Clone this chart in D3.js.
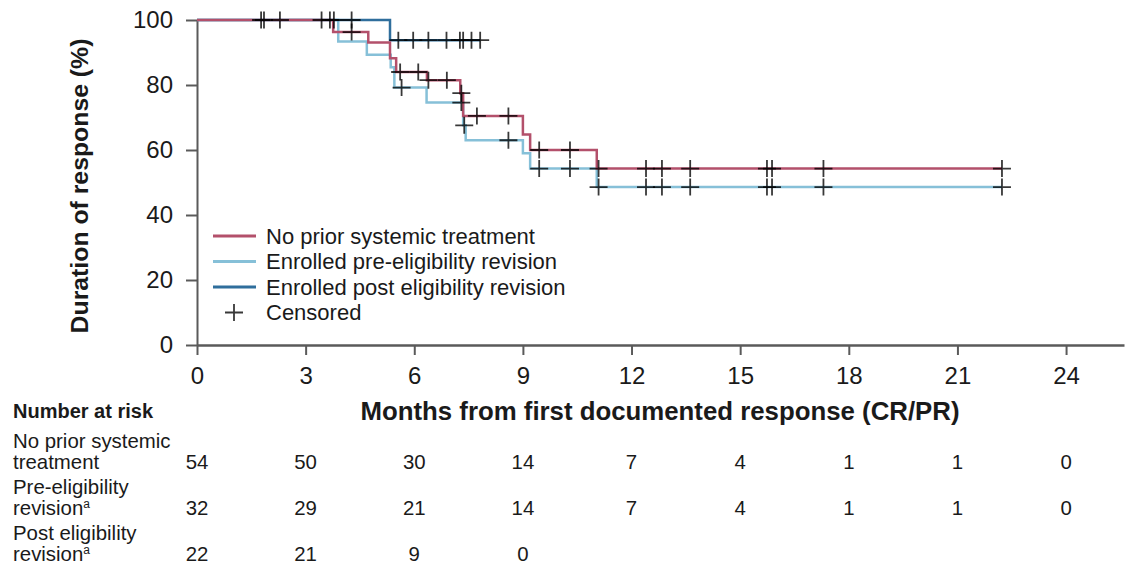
<!DOCTYPE html>
<html>
<head>
<meta charset="utf-8">
<script src="https://cdn.jsdelivr.net/npm/d3@7"></script>
<style>
  body { margin: 0; background: #fff; }
  svg { display: block; font-family: "Liberation Sans", Arial, sans-serif; }
</style>
</head>
<body>
<svg id="km" width="1129" height="568"></svg>
<script>
// risk table
const months = [0, 3, 6, 9, 12, 15, 18, 21, 24];
const atRiskNoPrior = [54, 50, 30, 14, 7, 4, 1, 1, 0];
const atRiskPre = [32, 29, 21, 14, 7, 4, 1, 1, 0];
const atRiskPost = [22, 21, 9, 0];

// KM steps: [month, % still responding]
const stepsNoPrior = [[0,100],[3.76,96.3],[4.73,93.1],[5.33,88.2],[5.5,84],[6.35,81.5],[7.27,77.5],[7.35,70.5],[9.0,64.8],[9.2,60],[11.04,54.3]];
const stepsPre = [[0,100],[3.9,93.4],[4.69,89.3],[5.35,85.5],[5.45,79.2],[6.34,74.6],[7.35,67.6],[7.42,63],[9.0,59],[9.2,54.3],[11.04,48.6]];
const stepsPost = [[0,100],[5.33,93.8]];
const endNoPrior = 22.23, endPre = 22.23, endPost = 7.82;

// censored times
const censNoPrior = [1.77, 2.29, 3.44, 4.27, 5.61, 6.11, 6.39, 6.9, 7.3, 7.73, 8.6, 9.45, 10.3, 11.09, 12.4, 12.84, 13.62, 15.74, 15.88, 17.3, 22.23];
const censPre = [5.65, 7.3, 7.38, 8.6, 9.45, 10.3, 11.09, 12.4, 12.84, 13.62, 15.74, 15.88, 17.3, 22.23];
const censPost = [1.85, 3.67, 3.78, 4.27, 5.56, 5.97, 6.39, 6.89, 7.26, 7.35, 7.58, 7.82];

const legendLabels = ["No prior systemic treatment", "Enrolled pre-eligibility revision", "Enrolled post eligibility revision", "Censored"];
const colors = { noPrior: "#b3506b", pre: "#86c0d8", post: "#2f6e9c" };

const svg = d3.select("#km");
const textColor = "#1a1a1a";
const axisColor = "#5a5a5a";

const x = d3.scaleLinear().domain([0, 25.6]).range([197, 1124]);
const y = d3.scaleLinear().domain([0, 100]).range([345, 20]);

// axes
const yAxis = svg.append("g")
    .attr("transform", "translate(" + x(0) + ",0)")
    .call(d3.axisLeft(y).tickValues([0, 20, 40, 60, 80, 100]).tickSize(11).tickPadding(13).tickSizeOuter(0));
const xAxis = svg.append("g")
    .attr("transform", "translate(0," + y(0) + ")")
    .call(d3.axisBottom(x).tickValues(months).tickSize(10).tickPadding(12).tickSizeOuter(0));

[xAxis, yAxis].forEach(a => {
    a.selectAll("path, line").attr("stroke", axisColor).attr("stroke-width", 2);
    a.selectAll("text").attr("fill", textColor).style("font-size", "24px");
});
xAxis.select(".domain").attr("stroke-width", 2.6);

svg.append("text")
    .attr("transform", "translate(88," + 186 + ") rotate(-90)")
    .attr("text-anchor", "middle")
    .attr("fill", textColor)
    .style("font-size", "24.8px").style("font-weight", "bold")
    .text("Duration of response (%)");

svg.append("text")
    .attr("x", 660).attr("y", 420)
    .attr("text-anchor", "middle")
    .attr("fill", textColor)
    .style("font-size", "25.8px").style("font-weight", "bold")
    .text("Months from first documented response (CR/PR)");

// curves
function survAt(steps, t) {
    let s = steps[0][1];
    steps.forEach(d => { if (d[0] <= t) s = d[1]; });
    return s;
}
const line = d3.line().x(d => x(d[0])).y(d => y(d[1])).curve(d3.curveStepAfter);

const series = [
    { steps: stepsPre, end: endPre, cens: censPre, color: colors.pre },
    { steps: stepsPost, end: endPost, cens: censPost, color: colors.post },
    { steps: stepsNoPrior, end: endNoPrior, cens: censNoPrior, color: colors.noPrior }
];

series.forEach(s => {
    const pts = s.steps.concat([[s.end, s.steps[s.steps.length - 1][1]]]);
    svg.append("path")
        .attr("d", line(pts))
        .attr("fill", "none")
        .attr("stroke", s.color)
        .attr("stroke-width", 2.5);
});

function plus(g, cx, cy) {
    g.append("path")
        .attr("d", `M${cx - 9},${cy}H${cx + 9}M${cx},${cy - 8.5}V${cy + 8.5}`)
        .attr("stroke", "rgba(0,0,0,0.78)")
        .attr("stroke-width", 1.8)
        .attr("fill", "none");
}

const censG = svg.append("g");
series.forEach(s => {
    s.cens.forEach(t => plus(censG, x(t), y(survAt(s.steps, t))));
});

// legend
const legend = svg.append("g");
const legendColors = [colors.noPrior, colors.pre, colors.post];
legendLabels.forEach((lab, i) => {
    const cy = 236 + i * 25.5;
    if (i < 3) {
        legend.append("line")
            .attr("x1", 213).attr("x2", 256).attr("y1", cy).attr("y2", cy)
            .attr("stroke", legendColors[i]).attr("stroke-width", 3);
    } else {
        plus(legend, 234, cy);
    }
    legend.append("text")
        .attr("x", 266).attr("y", cy).attr("dy", "0.36em")
        .attr("fill", textColor)
        .style("font-size", "22px")
        .text(lab);
});

// number at risk table
svg.append("text")
    .attr("x", 13).attr("y", 418)
    .attr("fill", textColor)
    .style("font-size", "20px").style("font-weight", "bold")
    .text("Number at risk");

const rows = [
    { l1: "No prior systemic", l2: "treatment", sup: false, vals: atRiskNoPrior, base: 469 },
    { l1: "Pre-eligibility", l2: "revision", sup: true, vals: atRiskPre, base: 515 },
    { l1: "Post eligibility", l2: "revision", sup: true, vals: atRiskPost, base: 561 }
];

rows.forEach(r => {
    svg.append("text").attr("x", 13).attr("y", r.base - 21)
        .attr("fill", textColor).style("font-size", "20.4px").text(r.l1);
    const t2 = svg.append("text").attr("x", 13).attr("y", r.base)
        .attr("fill", textColor).style("font-size", "20.4px").text(r.l2);
    if (r.sup) {
        t2.append("tspan").attr("dy", -7).style("font-size", "12px").text("a");
    }
    svg.selectAll(null).data(r.vals).enter().append("text")
        .attr("x", (d, i) => x(months[i]))
        .attr("y", r.base)
        .attr("text-anchor", "middle")
        .attr("fill", textColor)
        .style("font-size", "20.4px")
        .text(d => d);
});
</script>
</body>
</html>
